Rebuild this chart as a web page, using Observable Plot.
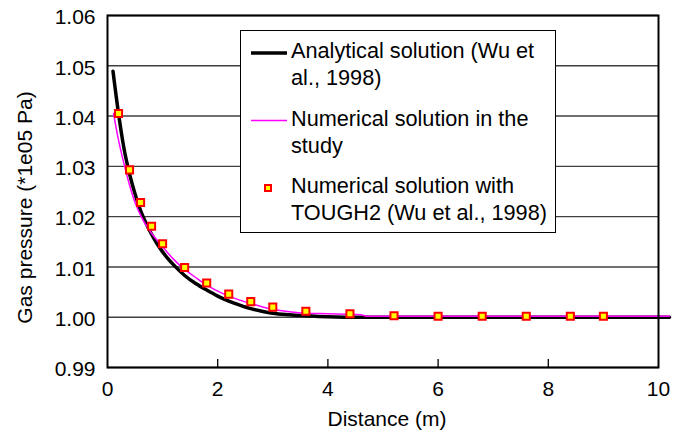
<!DOCTYPE html>
<html>
<head>
<meta charset="utf-8">
<script src="https://cdn.jsdelivr.net/npm/d3@7"></script>
<script src="https://cdn.jsdelivr.net/npm/@observablehq/plot@0.6"></script>
<style>
  html, body { margin: 0; padding: 0; background: #fff; }
  #wrap { position: relative; width: 682px; height: 432px; font-family: "Liberation Sans", Arial, sans-serif; }
  #legend { position: absolute; left: 240px; top: 30px; width: 316px; height: 203px; box-sizing: border-box;
    border: 1.3px solid #000; background: #fff; font-size: 21.7px; line-height: 26.5px; color: #000; }
  .entry { position: absolute; left: 0; width: 100%; }
  .entry .txt { position: absolute; left: 50px; top: 0; white-space: nowrap; }
  .entry svg { position: absolute; left: 0; top: 0; }
</style>
</head>
<body>
<div id="wrap">
  <div id="chart"></div>
  <div id="legend"></div>
</div>
<script>
// Analytical solution (Wu et al., 1998)
const analyticalX = [0.1, 0.2, 0.3, 0.4, 0.5, 0.6, 0.7, 0.8, 0.9, 1.0, 1.1, 1.2, 1.4, 1.6, 1.8, 2.0, 2.2, 2.4, 2.6, 2.8, 3.0, 3.3, 3.6, 4.0, 4.6, 10.2];
const analyticalY = [1.0489, 1.0405, 1.0335, 1.0285, 1.0245, 1.0212, 1.0187, 1.0165, 1.0146, 1.0130, 1.0116, 1.0104, 1.0083, 1.0067, 1.0054, 1.0042, 1.0032, 1.0024, 1.0017, 1.0012, 1.0008, 1.0005, 1.0003, 1.0001, 1.0000, 1.0000];
// Numerical solution in the study
const studyX = [0.11, 0.2, 0.3, 0.4, 0.5, 0.6, 0.7, 0.8, 1.0, 1.2, 1.4, 1.6, 1.8, 2.0, 2.2, 2.4, 2.6, 2.8, 3.0, 3.3, 3.6, 4.0, 4.6, 4.7, 10.2];
const studyY = [1.0405, 1.0352, 1.0305, 1.0263, 1.0228, 1.0203, 1.0183, 1.0167, 1.0140, 1.0115, 1.0095, 1.0079, 1.0064, 1.0052, 1.0042, 1.0034, 1.0027, 1.0021, 1.0016, 1.0011, 1.0008, 1.0007, 1.0005, 1.0002, 1.0002];
// Numerical solution with TOUGH2 (Wu et al., 1998)
const toughX = [0.2, 0.4, 0.6, 0.8, 1.0, 1.4, 1.8, 2.2, 2.6, 3.0, 3.6, 4.4, 5.2, 6.0, 6.8, 7.6, 8.4, 9.0];
const toughY = [1.0405, 1.0293, 1.0228, 1.0181, 1.0146, 1.0099, 1.0068, 1.0046, 1.0031, 1.0020, 1.0012, 1.0007, 1.0003, 1.0002, 1.0002, 1.0002, 1.0002, 1.0002];

const xTicks = [0, 2, 4, 6, 8, 10];
const xInnerTicks = [2, 4, 6, 8];
const yTicks = [0.99, 1.00, 1.01, 1.02, 1.03, 1.04, 1.05, 1.06];

const seriesNames = ["Analytical solution (Wu et\nal., 1998)", "Numerical solution in the\nstudy", "Numerical solution with\nTOUGH2 (Wu et al., 1998)"];
const xLabel = "Distance (m)";
const yLabel = "Gas pressure (*1e05 Pa)";

const analytical = analyticalX.map((x, i) => ({x, y: analyticalY[i]}));
const study = studyX.map((x, i) => ({x, y: studyY[i]}));
const tough = toughX.map((x, i) => ({x, y: toughY[i]}));

const chart = Plot.plot({
  width: 682,
  height: 432,
  marginLeft: 107,
  marginRight: 24,
  marginTop: 15,
  marginBottom: 65,
  x: {domain: [0, 10]},
  y: {domain: [0.99, 1.06]},
  style: {fontFamily: "'Liberation Sans', Arial, sans-serif", fontSize: "21px", color: "#000", background: "#fff"},
  marks: [
    Plot.gridY(yTicks, {stroke: "#404040", strokeOpacity: 1, strokeWidth: 1.4}),
    Plot.axisY(yTicks, {tickSize: 0, tickPadding: 12, dy: 2, tickFormat: d => d.toFixed(2), label: null, fontSize: 21}),
    Plot.axisX(xTicks, {tickSize: 0, tickPadding: 14, tickFormat: d => String(d), label: null, fontSize: 21}),
    Plot.axisX(xInnerTicks, {tickSize: 8, dy: -8, tickFormat: () => "", label: null, strokeWidth: 1.3}),
    Plot.line(analytical, {x: "x", y: "y", stroke: "#000", strokeWidth: 3.5, curve: "monotone-x"}),
    Plot.line(study, {x: "x", y: "y", stroke: "#ff00ff", strokeWidth: 1.5, curve: "monotone-x"}),
    Plot.dot(tough, {x: "x", y: "y", symbol: "square", r: 4, fill: "#ffff00", stroke: "#ff0000", strokeWidth: 2}),
    Plot.frame({stroke: "#000", strokeWidth: 2}),
    Plot.text([yLabel], {frameAnchor: "left", textAnchor: "middle", lineAnchor: "middle", rotate: -90, dx: -82, dy: 16, fontSize: 21, fill: "#000"}),
    Plot.text([xLabel], {frameAnchor: "bottom", textAnchor: "middle", lineAnchor: "middle", dx: 4, dy: 52, fontSize: 21, fill: "#000"})
  ]
});
document.getElementById("chart").appendChild(chart);

// Legend
const legend = document.getElementById("legend");
const entryTops = [7, 75, 142];
const swatches = [
  `<svg width="50" height="30"><line x1="10" x2="46" y1="15" y2="15" stroke="#000" stroke-width="3.5"/></svg>`,
  `<svg width="50" height="30"><line x1="10" x2="46" y1="14.5" y2="14.5" stroke="#ff00ff" stroke-width="1.5"/></svg>`,
  `<svg width="50" height="30"><rect x="24" y="12" width="6" height="6" fill="#ffff00" stroke="#ff0000" stroke-width="2"/></svg>`
];
seriesNames.forEach((name, i) => {
  const e = document.createElement("div");
  e.className = "entry";
  e.style.top = entryTops[i] + "px";
  e.innerHTML = swatches[i] + `<div class="txt">${name.split("\n").join("<br>")}</div>`;
  legend.appendChild(e);
});
</script>
</body>
</html>
